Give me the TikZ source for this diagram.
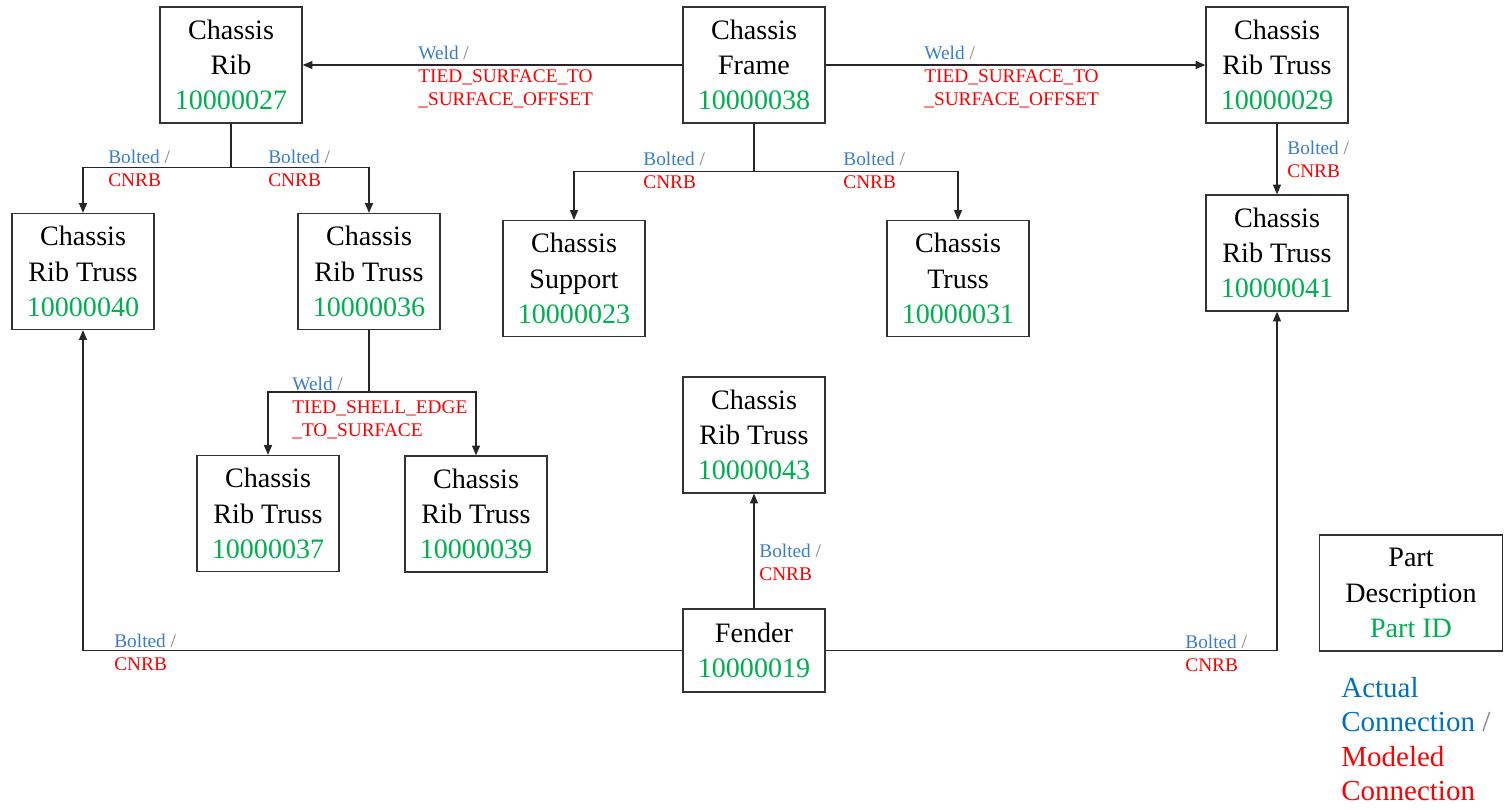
\documentclass[tikz,border=0pt]{standalone}
\usepackage{fontspec}
\setmainfont{Liberation Serif}
\usepackage{xcolor}
\usetikzlibrary{arrows.meta}
\definecolor{partid}{HTML}{00B050}
\definecolor{actual}{HTML}{3A7DC9}
\definecolor{legblue}{HTML}{0070C0}
\definecolor{modeled}{HTML}{FF0000}
\newcommand{\pid}[1]{{\color{partid}#1}}
\newcommand{\act}[1]{{\color{actual}#1} {\color{gray}/}}

\begin{document}
\begin{tikzpicture}[x=0.02cm, y=-0.02cm,
    partbox/.style={draw=black!80, line width=0.75pt, align=center, inner sep=0pt,
      minimum width=2.84cm, minimum height=2.32cm, font=\fontsize{16}{20}\selectfont},
    lbl/.style={anchor=north west, inner sep=0pt, align=left, text=modeled,
      font=\fontsize{11}{13.1}\selectfont},
    conn/.style={draw=black!85, line width=0.75pt},
    tip/.style={conn, -{Triangle[length=5.5pt,width=4.5pt]}}]
  \useasboundingbox (0,0) rectangle (1504,809);

  % === TOP ROW ===
  \node[partbox] (rib)   at (231,65)  {Chassis\\Rib\\\pid{10000027}};
  \node[partbox] (frame) at (754,65)  {Chassis\\Frame\\\pid{10000038}};
  \node[partbox] (rt29)  at (1277,65) {Chassis\\Rib Truss\\\pid{10000029}};

  % === SECOND ROW ===
  \node[partbox] (rt40)  at (83,271.5)  {Chassis\\Rib Truss\\\pid{10000040}};
  \node[partbox] (rt36)  at (369,271.5) {Chassis\\Rib Truss\\\pid{10000036}};
  \node[partbox] (sup23) at (574,278.5) {Chassis\\Support\\\pid{10000023}};
  \node[partbox] (tr31)  at (958,278.5) {Chassis\\Truss\\\pid{10000031}};
  \node[partbox] (rt41)  at (1277,253)  {Chassis\\Rib Truss\\\pid{10000041}};

  % === LOWER PARTS ===
  \node[partbox] (rt37)  at (268,513.5) {Chassis\\Rib Truss\\\pid{10000037}};
  \node[partbox] (rt39)  at (476,514)   {Chassis\\Rib Truss\\\pid{10000039}};
  \node[partbox] (rt43)  at (754,435)   {Chassis\\Rib Truss\\\pid{10000043}};
  \node[partbox, minimum height=1.66cm] (fender) at (754,650.5) {Fender\\\pid{10000019}};

  % Frame welds
  \draw[tip] (frame.west) -- (rib.east);
  \draw[tip] (frame.east) -- (rt29.west);
  \node[lbl] (lbl-rib)  at (418,46) {\act{Weld}\\TIED\_SURFACE\_TO\\\_SURFACE\_OFFSET};
  \node[lbl] (lbl-rt29) at (924,46) {\act{Weld}\\TIED\_SURFACE\_TO\\\_SURFACE\_OFFSET};

  % Rib branches
  \draw[conn] (rib.south) -- ++(0,44) coordinate (ribj);
  \draw[tip] (ribj) -| (rt40.north);
  \draw[tip] (ribj) -| (rt36.north);
  \node[lbl] (lbl-rt40) at (108,150) {\act{Bolted}\\CNRB};
  \node[lbl] (lbl-rt36) at (268,150) {\act{Bolted}\\CNRB};

  % Frame branches
  \draw[conn] (frame.south) -- ++(0,48) coordinate (framej);
  \draw[tip] (framej) -| (sup23.north);
  \draw[tip] (framej) -| (tr31.north);
  \node[lbl] (lbl-sup23) at (643,152) {\act{Bolted}\\CNRB};
  \node[lbl] (lbl-tr31)  at (843,152) {\act{Bolted}\\CNRB};

  % Rib truss chain
  \draw[tip] (rt29.south) -- (rt41.north);
  \node[lbl] (lbl-rt41) at (1287,141) {\act{Bolted}\\CNRB};

  \draw[conn] (rt36.south) -- ++(0,62) coordinate (rt36j);
  \draw[tip] (rt36j) -| (rt37.north);
  \draw[tip] (rt36j) -| (rt39.north);
  \node[lbl] (lbl-rt37) at (292,377) {\act{Weld}\\TIED\_SHELL\_EDGE\\\_TO\_SURFACE};

  % Fender
  \draw[tip] (fender.north) -- (rt43.south);
  \node[lbl] (lbl-rt43) at (759,544) {\act{Bolted}\\CNRB};
  \draw[tip] (fender.west) -| (rt40.south);
  \node[lbl] (lbl-fl) at (114,634) {\act{Bolted}\\CNRB};
  \draw[tip] (fender.east) -| (rt41.south);
  \node[lbl] (lbl-fr) at (1185,635) {\act{Bolted}\\CNRB};

  % === LEGEND ===
  \node[partbox, minimum width=3.66cm] (legend) at (1411,593) {Part\\Description\\\pid{Part ID}};
  \node[anchor=north west, inner sep=0pt, align=left, font=\fontsize{16.5}{19.6}\selectfont]
    (legtext) at (1341,677) {{\color{legblue}Actual}\\{\color{legblue}Connection} {\color{gray}/}\\
    {\color{modeled}Modeled}\\{\color{modeled}Connection}};
\end{tikzpicture}
\end{document}
